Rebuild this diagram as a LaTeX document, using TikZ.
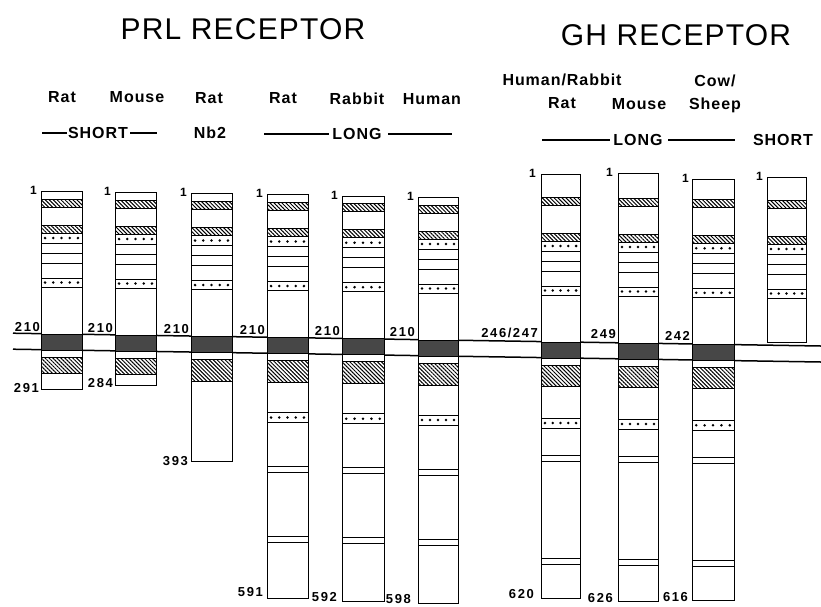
\documentclass[tikz,border=0pt]{standalone}
\usepackage{fontspec}
\setmainfont{Liberation Sans}
\newfontfamily\titlefam[LetterSpace=4]{Liberation Sans}
\newfontfamily\lblfam[LetterSpace=6]{Liberation Sans Bold}
\newfontfamily\numfam[LetterSpace=12]{Liberation Sans Bold}
\usetikzlibrary{patterns.meta}
\tikzset{
  colbox/.style={draw=black, line width=0.9pt, fill=white},
  rule/.style={draw=black, line width=0.85pt},
  hatchband/.style={draw=black, line width=0.9pt, pattern={Lines[angle=-45,distance=2.8pt,line width=1pt]}},
  tmband/.style={draw=black, line width=0.9pt, fill=black!72},
  membrane/.style={draw=black, line width=1.5pt},
  titlelbl/.style={font=\titlefam\fontsize{30}{32}\selectfont, inner sep=0pt, anchor=base},
  species/.style={font=\lblfam\fontsize{16}{18}\selectfont, inner sep=0pt, anchor=base},
  numlbl/.style={font=\numfam\fontsize{13}{15}\selectfont, inner sep=0pt, anchor=base east},
  onelbl/.style={font=\numfam\fontsize{12}{14}\selectfont, inner sep=0pt, anchor=base east},
  hdrline/.style={draw=black, line width=2.4pt},
}
\newcommand{\dotband}[4]{%
  \draw[rule] (#1,{#3}) rectangle (#2,{#4});
  \foreach \k in {1,...,5}{\fill ({#1+(#2-#1)*(\k-0.5)/5},{(#3+#4)/2}) circle (1.4pt);}
}
\newcommand{\ecdbands}[4]{% xl, xr, T, h1
  \draw[hatchband] (#1,{#3-#4}) rectangle (#2,{#3-#4+8});
  \draw[hatchband] (#1,{#3-109}) rectangle (#2,{#3-101});
  \dotband{#1}{#2}{#3-101}{#3-91}
  \draw[rule] (#1,{#3-81}) -- (#2,{#3-81});
  \draw[rule] (#1,{#3-71}) -- (#2,{#3-71});
  \dotband{#1}{#2}{#3-56}{#3-47}
}
\newcommand{\tmbox}[3]{\draw[tmband] (#1,{#3}) rectangle (#2,{#3+16});}
\newcommand{\icdhatch}[4]{\draw[hatchband] (#1,{#3+23}) rectangle (#2,{#3+23+#4});}
\newcommand{\prllong}[3]{%
  \dotband{#1}{#2}{#3+75}{#3+85}
  \draw[rule] (#1,{#3+129}) -- (#2,{#3+129}) (#1,{#3+135}) -- (#2,{#3+135});
  \draw[rule] (#1,{#3+199}) -- (#2,{#3+199}) (#1,{#3+205}) -- (#2,{#3+205});
}
\newcommand{\ghlong}[3]{%
  \dotband{#1}{#2}{#3+76}{#3+86}
  \draw[rule] (#1,{#3+113}) -- (#2,{#3+113}) (#1,{#3+119}) -- (#2,{#3+119});
  \draw[rule] (#1,{#3+216}) -- (#2,{#3+216}) (#1,{#3+222}) -- (#2,{#3+222});
}
\begin{document}
\begin{tikzpicture}[x=1pt,y=-1pt]
\useasboundingbox (0,0) rectangle (821,606);
\fill[white] (0,0) rectangle (821,606);

% titles
\node[titlelbl] (prltitle) at (243,39) {PRL RECEPTOR};
\node[titlelbl] (ghtitle) at (676,45) {GH RECEPTOR};

% species
\node[species] (sp1) at (62,102) {Rat};
\node[species] (sp2) at (137,102) {Mouse};
\node[species] (sp3) at (209,103) {Rat};
\node[species] (sp4) at (283,103) {Rat};
\node[species] (sp5) at (357,104) {Rabbit};
\node[species] (sp6) at (432,104) {Human};
\node[species] (sp7a) at (562,85) {Human/Rabbit};
\node[species] (sp7b) at (562,108) {Rat};
\node[species] (sp8) at (639,109) {Mouse};
\node[species] (sp9a) at (715,86) {Cow/};
\node[species] (sp9b) at (715,109) {Sheep};

% form labels
\node[species] (fshort) at (98,138) {SHORT};
\node[species] (fnb) at (210,138) {Nb2};
\node[species] (flong) at (357,139) {LONG};
\node[species] (fghlong) at (638,145) {LONG};
\node[species] (fghshort) at (783,145) {SHORT};
\coordinate (h1a) at (42,133); \coordinate (h1b) at (67,133);
\coordinate (h2a) at (130,133); \coordinate (h2b) at (157,133);
\coordinate (h3a) at (264,134); \coordinate (h3b) at (329,134);
\coordinate (h4a) at (388,134); \coordinate (h4b) at (452,134);
\coordinate (h5a) at (542,140); \coordinate (h5b) at (610,140);
\coordinate (h6a) at (668,140); \coordinate (h6b) at (735,140);
\draw[hdrline] (h1a) -- (h1b);
\draw[hdrline] (h2a) -- (h2b);
\draw[hdrline] (h3a) -- (h3b);
\draw[hdrline] (h4a) -- (h4b);
\draw[hdrline] (h5a) -- (h5b);
\draw[hdrline] (h6a) -- (h6b);

% membrane
\coordinate (mtl) at (13,333.2); \coordinate (mtr) at (821,346);
\coordinate (mbl) at (13,349.2); \coordinate (mbr) at (821,362);
\draw[membrane] (mtl) -- (mtr);
\draw[membrane] (mbl) -- (mbr);

% column 1: rat short
\draw[colbox] (41,191) rectangle (82,389);
\ecdbands{41}{82}{334}{135}
\tmbox{41}{82}{334}
\icdhatch{41}{82}{334}{16}
% column 2: mouse short
\draw[colbox] (115,192) rectangle (156,385);
\ecdbands{115}{156}{335}{135}
\tmbox{115}{156}{335}
\icdhatch{115}{156}{335}{16}
% column 3: rat Nb2
\draw[colbox] (191,193) rectangle (232,461);
\ecdbands{191}{232}{336.5}{135}
\tmbox{191}{232}{336.5}
\icdhatch{191}{232}{336.5}{22}
% column 4: rat long
\draw[colbox] (267,194) rectangle (308,598);
\ecdbands{267}{308}{337.5}{135}
\tmbox{267}{308}{337.5}
\icdhatch{267}{308}{337.5}{22}
\prllong{267}{308}{337.5}
% column 5: rabbit long
\draw[colbox] (342,196) rectangle (384,601);
\ecdbands{342}{384}{338.7}{135}
\tmbox{342}{384}{338.7}
\icdhatch{342}{384}{338.7}{22}
\prllong{342}{384}{338.7}
% column 6: human long
\draw[colbox] (418,197) rectangle (458,603);
\ecdbands{418}{458}{340}{135}
\tmbox{418}{458}{340}
\icdhatch{418}{458}{340}{22}
\prllong{418}{458}{340}
% column 7: GH human/rabbit/rat
\draw[colbox] (541,174) rectangle (580,598);
\ecdbands{541}{580}{342}{145}
\tmbox{541}{580}{342}
\icdhatch{541}{580}{342}{21}
\ghlong{541}{580}{342}
% column 8: GH mouse
\draw[colbox] (618,173) rectangle (658,601);
\ecdbands{618}{658}{343}{145}
\tmbox{618}{658}{343}
\icdhatch{618}{658}{343}{21}
\ghlong{618}{658}{343}
% column 9: GH cow/sheep
\draw[colbox] (692,179) rectangle (734,600);
\ecdbands{692}{734}{344.3}{145}
\tmbox{692}{734}{344.3}
\icdhatch{692}{734}{344.3}{21}
\ghlong{692}{734}{344.3}
% column 10: GH short (soluble)
\draw[colbox] (767,177) rectangle (806,342);
\ecdbands{767}{806}{345}{145}

% N-terminal labels
\node[onelbl] (o1) at (37,194) {1};
\node[onelbl] (o2) at (111,195) {1};
\node[onelbl] (o3) at (187,196) {1};
\node[onelbl] (o4) at (263,197) {1};
\node[onelbl] (o5) at (338,199) {1};
\node[onelbl] (o6) at (414,200) {1};
\node[onelbl] (o7) at (536,177) {1};
\node[onelbl] (o8) at (613,176) {1};
\node[onelbl] (o9) at (689,182) {1};
\node[onelbl] (o10) at (763,180) {1};

% TM position labels
\node[numlbl] (p1) at (40,331) {210};
\node[numlbl] (p2) at (113,332) {210};
\node[numlbl] (p3) at (189,333) {210};
\node[numlbl] (p4) at (265,334) {210};
\node[numlbl] (p5) at (340,335) {210};
\node[numlbl] (p6) at (415,336) {210};
\node[numlbl] (p7) at (538,337) {246/247};
\node[numlbl] (p8) at (616,338) {249};
\node[numlbl] (p9) at (690,340) {242};

% C-terminal labels
\node[numlbl] (c1) at (39,392) {291};
\node[numlbl] (c2) at (113,387) {284};
\node[numlbl] (c3) at (188,465) {393};
\node[numlbl] (c4) at (263,596) {591};
\node[numlbl] (c5) at (337,601) {592};
\node[numlbl] (c6) at (411,603) {598};
\node[numlbl] (c7) at (534,598) {620};
\node[numlbl] (c8) at (613,602) {626};
\node[numlbl] (c9) at (688,601) {616};
\end{tikzpicture}
\end{document}
